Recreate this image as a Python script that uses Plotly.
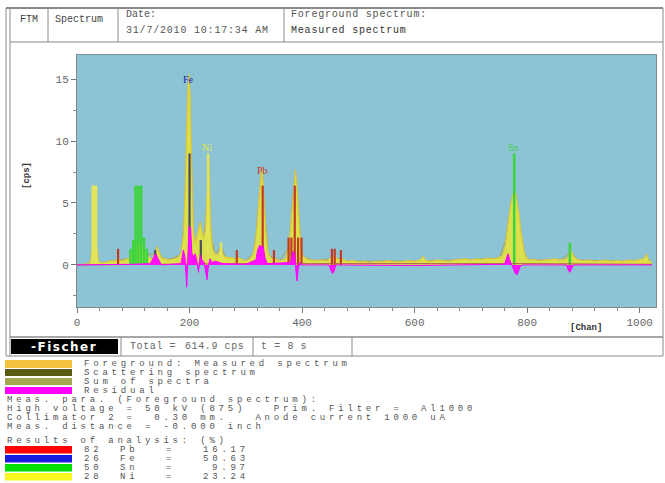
import plotly.graph_objects as go

# ---------------- data ----------------
# Foreground: measured spectrum (channel, cps)
meas_chan = ([0, 12, 22, 25, 27, 36, 38, 45, 55, 62, 68, 72, 76, 80, 86, 92, 98, 104, 110, 116,
              122, 128, 134, 138, 142, 146, 150, 156, 164, 172, 180]
             + [185, 189, 192, 195, 197, 199, 201, 203, 205, 207, 210, 213, 216, 219, 222, 225, 228,
                230, 232, 234, 236, 238, 241, 245, 250, 254, 256, 258, 262, 268, 275, 282, 287, 292, 298]
             + [305, 312, 316, 320, 323, 326, 328, 330, 333, 336, 340, 345, 351, 356, 362, 370, 375,
                379, 383, 386, 388, 390, 392, 395, 398, 402, 408, 415, 425, 435, 445, 452, 458, 465, 472]
             + [480, 490, 500, 510, 520, 530, 540, 550, 560, 570, 580, 590, 600, 610, 615, 620, 630,
                640, 650, 660, 670, 680, 690, 700, 710, 720, 730, 740, 750]
             + [756, 761, 765, 768, 771, 774, 777, 780, 783, 786, 789, 792, 795, 799, 805, 812, 820,
                830, 840, 850, 858, 865, 870, 874, 877, 880, 883, 887, 893, 900, 910, 920, 930, 940,
                950, 960, 970, 980, 990, 1000, 1008, 1012, 1016, 1022])
meas_cps = ([0.0, 0.05, 0.1, 0.6, 1.3, 1.3, 0.3, 0.15, 0.3, 0.35, 0.3, 0.5, 0.4, 0.3, 0.45, 0.5,
             0.9, 1.6, 1.9, 1.4, 1.0, 0.6, 0.5, 0.9, 1.5, 1.1, 0.6, 0.5, 0.4, 0.5, 0.6]
            + [1.0, 2.5, 6.0, 11.5, 14.5, 15.4, 14.0, 10.0, 5.5, 2.8, 1.8, 2.4, 3.0, 3.5, 2.8, 2.2,
               2.8, 4.5, 7.0, 8.6, 6.0, 3.0, 1.3, 0.9, 0.8, 1.2, 1.8, 1.0, 0.7, 0.6, 0.6, 0.5, 0.6,
               0.5, 0.35]
            + [0.4, 0.8, 1.6, 3.2, 5.2, 7.0, 7.9, 7.3, 5.0, 2.6, 1.0, 0.5, 0.6, 0.4, 0.35, 0.5, 1.2,
               2.8, 5.0, 6.8, 7.7, 7.0, 5.5, 3.0, 1.5, 0.7, 0.5, 0.4, 0.35, 0.4, 0.35, 0.6, 0.7,
               0.45, 0.5]
            + [0.3, 0.35, 0.25, 0.3, 0.2, 0.3, 0.25, 0.35, 0.3, 0.25, 0.3, 0.35, 0.3, 0.4, 0.7,
               0.35, 0.3, 0.4, 0.35, 0.3, 0.4, 0.45, 0.5, 0.4, 0.5, 0.45, 0.55, 0.5, 0.6]
            + [0.8, 1.5, 3.0, 4.2, 5.0, 5.6, 6.0, 5.8, 5.0, 4.0, 2.8, 1.8, 1.0, 0.6, 0.4, 0.45,
               0.35, 0.4, 0.45, 0.5, 0.4, 0.45, 0.5, 0.8, 1.2, 1.0, 0.7, 0.5, 0.4, 0.35, 0.4, 0.3,
               0.35, 0.4, 0.3, 0.35, 0.3, 0.4, 0.35, 0.4, 0.5, 0.9, 0.4, 0.2])

# Sum of spectra
sum_chan = [0, 60, 100, 110, 120, 140, 160, 185, 190, 195, 199, 203, 207, 212, 219, 225, 230,
            234, 238, 245, 256, 265, 300, 315, 322, 328, 334, 340, 360, 378, 384, 388, 393, 400,
            420, 455, 480, 600, 750, 762, 770, 777, 784, 792, 800, 860, 877, 890, 1022]
sum_cps = [0.0, 0.25, 0.6, 1.2, 0.8, 0.9, 0.4, 0.8, 3.0, 10.0, 14.0, 9.0, 2.5, 1.6, 3.2, 2.0,
           4.0, 8.0, 2.5, 0.8, 1.5, 0.5, 0.35, 1.0, 4.5, 7.2, 4.0, 0.8, 0.35, 1.5, 5.5, 7.0, 4.5,
           0.7, 0.35, 0.5, 0.3, 0.3, 0.5, 2.0, 4.5, 5.2, 4.0, 1.5, 0.4, 0.4, 1.0, 0.4, 0.2]

# Scattering spectrum
scat_chan = [0, 100, 200, 300, 400, 500, 600, 700, 800, 900, 1022]
scat_cps = [0.0, 0.05, 0.1, 0.1, 0.1, 0.08, 0.08, 0.1, 0.1, 0.08, 0.05]

# Residual
res_chan = [0, 60, 100, 130, 136, 140, 144, 150, 185, 189, 192, 195, 197, 199, 202, 204, 207,
            210, 213, 216, 219, 222, 226, 229, 231, 233, 236, 240, 245, 260, 300, 318, 321, 325,
            328, 331, 334, 338, 380, 384, 387, 389, 391, 393, 396, 400, 448, 451, 454, 457, 460,
            600, 760, 763, 766, 769, 772, 776, 779, 782, 785, 788, 792, 870, 873, 876, 879, 882, 1022]
res_cps = [0.0, 0.0, 0.05, 0.1, 0.6, 0.9, 0.5, 0.0, 0.1, 1.2, 0.6, -1.8, 0.5, 3.1, 3.0, 1.0, 0.6,
           0.9, 0.3, -0.6, 0.8, 0.4, 0.2, -0.5, -1.2, -0.3, 0.5, 0.2, 0.3, 0.1, 0.05, 0.4, 1.2, 1.6,
           1.4, 1.5, 0.6, 0.1, 0.2, 1.1, 0.9, -0.5, -1.3, -0.4, 0.2, 0.0, 0.0, -0.4, -0.7, -0.5, 0.0,
           -0.05, 0.05, 0.5, 0.9, 0.4, 0.1, -0.3, -0.7, -0.8, -0.5, -0.1, 0.0, 0.0, -0.4, -0.6, -0.3,
           0.0, 0.0]

# Element line markers
pb_chan = [73, 284, 330, 350, 376, 381, 387, 393, 399, 453, 458, 469]
pb_cps = [1.3, 1.2, 6.4, 1.2, 2.2, 2.2, 6.4, 2.2, 2.2, 1.3, 1.3, 1.2]
fe_chan = [139, 200, 220]
fe_cps = [1.2, 9.0, 2.0]
sn_chan = [95, 100, 104, 109, 114, 119, 124, 777, 876]
sn_cps = [1.3, 2.0, 6.4, 6.4, 6.4, 2.2, 1.3, 9.0, 1.8]
ni_chan = [28, 31, 34, 233, 256]
ni_cps = [6.4, 6.4, 6.4, 9.0, 1.8]

# Peak labels
label_text = ["Fe", "Ni", "Pb", "Sn"]
label_chan = [199, 231, 329, 776]
label_cps = [15.0, 9.5, 7.6, 9.5]
label_color = ["#2020a8", "#e4e440", "#c83030", "#3cd040"]

# Results of analysis
res_z = ["82", "26", "50", "28"]
res_el = ["Pb", "Fe", "Sn", "Ni"]
res_val = ["16.17", "50.63", "9.97", "23.24"]
res_colors = ["#ff0000", "#1a1ae0", "#00e000", "#f8f820"]

legend_names = ["Foreground: Measured spectrum", "Scattering spectrum", "Sum of spectra", "Residual"]
legend_colors = ["#f2c23c", "#5a5a14", "#a4a650", "#ff00ff"]

meas_lines = ["Meas. para. (Foreground spectrum):",
              "High voltage = 50 kV (875)   Prim. Filter =  Al1000",
              "Collimator 2 =  0.30 mm.   Anode current 1000 uA",
              "Meas. distance = -0.000 inch"]

# ---------------- geometry helpers (pixel -> paper) ----------------
W, H = 665, 483
L, R, T, B = 77, 656, 55, 307


def PX(x):
    return (x - L) / (R - L)


def PY(y):
    return (B - y) / (B - T)


def segs(chan, vals):
    xs, ys = [], []
    for c, v in zip(chan, vals):
        xs += [c, c, None]
        ys += [0, v, None]
    return xs, ys


fig = go.Figure()

fig.add_trace(go.Scatter(x=sum_chan, y=sum_cps, mode="lines", line=dict(color="#a4a650", width=1),
                         name="Sum of spectra", hoverinfo="skip"))
fig.add_trace(go.Scatter(x=meas_chan, y=meas_cps, mode="lines", fill="tozeroy",
                         fillcolor="rgba(232,230,52,0.85)",
                         line=dict(color="#dcc040", width=1), name="Measured", hoverinfo="skip"))

for chan, vals, col, w in [(sn_chan, sn_cps, "#3ed43e", 2.6),
                           (ni_chan, ni_cps, "#e2e45a", 2.5),
                           (pb_chan, pb_cps, "#c23a26", 2.2),
                           (fe_chan, fe_cps, "#4a4a66", 2.2)]:
    xs, ys = segs(chan, vals)
    fig.add_trace(go.Scatter(x=xs, y=ys, mode="lines", line=dict(color=col, width=w),
                             hoverinfo="skip"))

fig.add_trace(go.Scatter(x=scat_chan, y=scat_cps, mode="lines", line=dict(color="#b05a50", width=1),
                         hoverinfo="skip"))
fig.add_trace(go.Scatter(x=res_chan, y=res_cps, mode="lines", fill="tozeroy",
                         fillcolor="#ff10ff", line=dict(color="#ff00ff", width=1), hoverinfo="skip"))

ann = []
for t, c, v, col in zip(label_text, label_chan, label_cps, label_color):
    ann.append(dict(x=c, y=v, xref="x", yref="y", text=t, showarrow=False,
                    font=dict(family="Liberation Serif", size=10, color=col)))

MONO = "Liberation Mono"


def txt(x, y, s, size=10, color="#5a5a5a", anchor="left", spacing=None, bold=False,
        family=MONO, angle=0):
    s = s.replace(" ", "\u00a0")
    if bold:
        s = "<b>" + s + "</b>"
    if spacing:
        s = '<span style="letter-spacing:%spx">%s</span>' % (spacing, s)
    ann.append(dict(x=PX(x), y=PY(y), xref="paper", yref="paper", text=s, showarrow=False,
                    xanchor=anchor, yanchor="middle", textangle=angle,
                    font=dict(family=family, size=size, color=color)))


# header
txt(29, 19, "FTM", 10, "#444", "center")
txt(53, 19, "Spectrum", 10, "#444")
txt(124, 15, "Date:", 10, "#555")
txt(124, 31, "31/7/2010 10:17:34 AM", 10, "#555", spacing=0.8)
txt(289, 15, "Foreground spectrum:", 10, "#555", spacing=0.8)
txt(289, 31, "Measured spectrum", 10, "#333", spacing=0.8)

# axis titles
txt(27, 176, "[cps]", 9, "#333", "center", bold=True, angle=-90)
txt(586, 328, "[Chan]", 9, "#333", "center", bold=True)

# Fischer row
txt(64, 347, "-Fischer", 12, "#ffffff", "center", bold=True, family="DejaVu Sans", spacing=1.5)
txt(128, 346, "Total =", 10, "#666", spacing=0.6)
txt(246, 346, "614.9 cps", 10, "#666", "right", spacing=0.6)
txt(259, 346, "t = 8 s", 10, "#666", spacing=0.6)

# legend texts
FS, SP = 9, 3.8
leg_y = [364, 373, 382, 391]
for name, y in zip(legend_names, leg_y):
    txt(82, y, name, FS, "#555", spacing=SP)
for i, line in enumerate(meas_lines):
    txt(5, 400 + 9 * i, line, FS, "#555", spacing=SP)
txt(5, 441, "Results of analysis: (%)", FS, "#555", spacing=SP)
for i, (z, el, v) in enumerate(zip(res_z, res_el, res_val)):
    y = 450 + 9 * i
    txt(82, y, z, FS, "#555", spacing=SP)
    txt(118, y, el, FS, "#555", spacing=SP)
    txt(164, y, "=", FS, "#555", spacing=SP)
    txt(251, y, v, FS, "#555", "right", spacing=SP)

shapes = []


def line(x0, y0, x1, y1, color="#8a8a8a", width=1):
    shapes.append(dict(type="line", xref="paper", yref="paper", x0=PX(x0), y0=PY(y0),
                       x1=PX(x1), y1=PY(y1), line=dict(color=color, width=width)))


def rect(x0, y0, x1, y1, fill):
    shapes.append(dict(type="rect", xref="paper", yref="paper", x0=PX(x0), y0=PY(y0),
                       x1=PX(x1), y1=PY(y1), fillcolor=fill, line=dict(width=0)))


# frame
line(6, 8, 663, 8, "#8a8a8a", 2)
line(6, 8, 6, 356)
line(10, 8, 10, 356)
line(663, 8, 663, 356)
line(10, 42, 663, 42)
for x in (48, 118, 284):
    line(x, 8, x, 42)
line(10, 337, 663, 337, "#8a8a8a", 1.5)
line(6, 356, 663, 356)
for x in (121, 253, 352):
    line(x, 337, x, 356)
rect(11, 339, 118, 354, "#000000")

# legend swatches
sw_y = [(360, 368), (369, 376), (378, 385), (387, 394)]
for (y0, y1), col in zip(sw_y, legend_colors):
    rect(5, y0, 72, y1, col)
for i, col in enumerate(res_colors):
    rect(5, 446 + 9 * i, 72, 453.5 + 9 * i, col)

fig.update_layout(
    width=W, height=H,
    margin=dict(l=L, r=W - R, t=T, b=H - B),
    paper_bgcolor="#ffffff", plot_bgcolor="#8cc4d6",
    showlegend=False,
    annotations=ann, shapes=shapes,
    xaxis=dict(range=[0, 1029], tickvals=[0, 200, 400, 600, 800, 1000],
               ticks="outside", ticklen=5, tickcolor="#777", showline=True, linecolor="#7a8a90",
               mirror=True, showgrid=False, zeroline=False,
               minor=dict(dtick=40, ticks="outside", ticklen=3, tickcolor="#888"),
               tickfont=dict(family=MONO, size=11, color="#666")),
    yaxis=dict(range=[-3.4, 16.95], tickvals=[0, 5, 10, 15],
               ticks="outside", ticklen=5, tickcolor="#777", showline=True, linecolor="#7a8a90",
               mirror=True, showgrid=False, zeroline=False,
               minor=dict(dtick=2.5, ticks="outside", ticklen=3, tickcolor="#888"),
               tickfont=dict(family=MONO, size=11, color="#666")),
)

fig.write_html("out.html", config={"displayModeBar": False},
               post_script="document.body.style.margin='0';")
